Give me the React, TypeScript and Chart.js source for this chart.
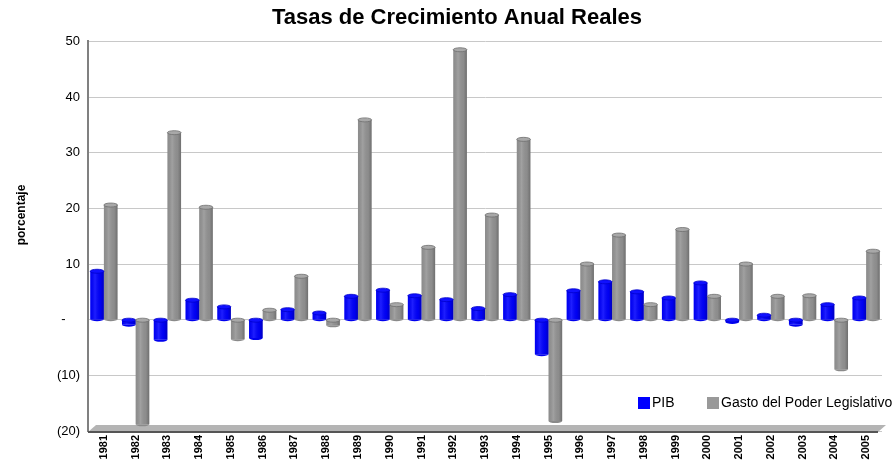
import React, { useEffect, useRef } from "react";
import { Chart, registerables } from "chart.js";

Chart.register(...registerables);

const years = ["1981","1982","1983","1984","1985","1986","1987","1988","1989","1990","1991","1992","1993","1994","1995","1996","1997","1998","1999","2000","2001","2002","2003","2004","2005"];
const pib = [8.7, -0.9, -3.6, 3.5, 2.3, -3.3, 1.8, 1.2, 4.2, 5.3, 4.3, 3.6, 2.0, 4.5, -6.2, 5.2, 6.8, 5.0, 3.9, 6.6, -0.4, 0.8, -0.9, 2.7, 3.9];
const gasto = [20.6, -18.8, 33.6, 20.2, -3.5, 1.7, 7.8, -1.0, 35.9, 2.7, 13.0, 48.5, 18.8, 32.4, -18.2, 10.0, 15.2, 2.7, 16.2, 4.2, 10.0, 4.2, 4.3, -8.9, 12.3];
const yTickLabels: Record<number, string> = { 50: "50", 40: "40", 30: "30", 20: "20", 10: "10", 0: "-    ", [-10]: "(10)", [-20]: "(20)" };
const TITLE = "Tasas de Crecimiento Anual Reales";

const FONT = "Arial, 'Liberation Sans', sans-serif";

const decoPlugin = {
  id: "deco",
  beforeDatasetsDraw(chart: any) {
    const { ctx, chartArea } = chart;
    const { left, right, bottom } = chartArea;
    ctx.save();
    ctx.beginPath();
    ctx.moveTo(left + 8, bottom - 6);
    ctx.lineTo(right + 4, bottom - 6);
    ctx.lineTo(right - 4, bottom + 1);
    ctx.lineTo(left, bottom + 1);
    ctx.closePath();
    ctx.fillStyle = "#b4b4b4";
    ctx.fill();
    ctx.fillStyle = "#555";
    ctx.fillRect(left, bottom, right - left - 4, 2);
    ctx.restore();
  },
  afterDatasetsDraw(chart: any) {
    const { ctx } = chart;
    ctx.save();
    chart.data.datasets.forEach((ds: any, di: number) => {
      const meta = chart.getDatasetMeta(di);
      meta.data.forEach((el: any) => {
        const w = el.width;
        const l = el.x - w / 2;
        const top = Math.min(el.y, el.base);
        const h = Math.abs(el.base - el.y);
        const g = ctx.createLinearGradient(l, 0, l + w, 0);
        g.addColorStop(0, "rgba(0,0,0,0.05)");
        g.addColorStop(0.35, "rgba(255,255,255,0.12)");
        g.addColorStop(0.75, "rgba(0,0,0,0.05)");
        g.addColorStop(1, "rgba(0,0,0,0.25)");
        ctx.fillStyle = g;
        ctx.fillRect(l, top, w, h);
        ctx.beginPath();
        ctx.ellipse(el.x, top, w / 2, 2, 0, 0, Math.PI * 2);
        ctx.fillStyle = di === 0 ? "#1010ff" : "#a8a8a8";
        ctx.fill();
        ctx.strokeStyle = di === 0 ? "#0000cc" : "#6e6e6e";
        ctx.lineWidth = 0.8;
        ctx.stroke();
        ctx.beginPath();
        ctx.ellipse(el.x, top + h, w / 2, 2, 0, 0, Math.PI);
        ctx.fillStyle = di === 0 ? "#0000ee" : "#8a8a8a";
        ctx.fill();
      });
    });
    ctx.restore();
  },
  afterDraw(chart: any) {
    const { ctx } = chart;
    ctx.save();
    // title
    ctx.font = `bold 22px ${FONT}`;
    ctx.textAlign = "center";
    ctx.textBaseline = "middle";
    ctx.fillStyle = "#000";
    ctx.fillText(TITLE, 457, 18);
    // y axis title
    ctx.save();
    ctx.translate(22, 215);
    ctx.rotate(-Math.PI / 2);
    ctx.font = `bold 12px ${FONT}`;
    ctx.textAlign = "center";
    ctx.textBaseline = "middle";
    ctx.fillStyle = "#000";
    ctx.fillText("porcentaje", 0, 0);
    ctx.restore();
    // legend
    ctx.font = `14px ${FONT}`;
    ctx.textAlign = "left";
    ctx.textBaseline = "middle";
    const y = 403;
    ctx.fillStyle = "#0000ff";
    ctx.fillRect(638, y - 6, 12, 12);
    ctx.fillStyle = "#000";
    ctx.fillText(chart.data.datasets[0].label, 652, y);
    ctx.fillStyle = "#999999";
    ctx.fillRect(707, y - 6, 12, 12);
    ctx.fillStyle = "#000";
    ctx.fillText(chart.data.datasets[1].label, 721, y);
    ctx.restore();
  },
};

export default function App() {
  const ref = useRef<HTMLCanvasElement>(null);
  useEffect(() => {
    document.body.style.margin = "0";
    const chart = new Chart(ref.current!, {
      type: "bar",
      data: {
        labels: years,
        datasets: [
          { label: "PIB", data: pib, backgroundColor: "#0000ff", borderWidth: 0, categoryPercentage: 0.86, barPercentage: 1 },
          { label: "Gasto del Poder Legislativo", data: gasto, backgroundColor: "#949494", borderWidth: 0, categoryPercentage: 0.86, barPercentage: 1 },
        ],
      },
      options: {
        animation: false,
        responsive: false,
        layout: { padding: { left: 8, right: 11, top: 0, bottom: 0 } },
        plugins: {
          legend: { display: false },
          tooltip: { enabled: false },
          title: {
            display: true,
            text: TITLE,
            font: { family: FONT, size: 22, weight: "bold" },
            color: "rgba(0,0,0,0)",
            padding: { top: 5, bottom: 10 },
          },
        },
        scales: {
          x: {
            grid: { display: false, drawTicks: false },
            border: { display: false },
            ticks: {
              color: "#000",
              font: { family: FONT, size: 11, weight: "bold" },
              maxRotation: 90,
              minRotation: 90,
              padding: 4,
            },
            afterFit: (s: any) => { s.height = 29; },
          },
          y: {
            min: -20,
            max: 50,
            ticks: {
              stepSize: 10,
              color: "#000",
              font: { family: FONT, size: 13 },
              padding: 8,
              callback: (v: any) => yTickLabels[v as number] ?? "",
            },
            grid: { color: "#c8c8c8", lineWidth: 1, drawTicks: false },
            border: { display: true, color: "#808080", width: 2 },
            afterFit: (s: any) => { s.width = 80; },
          },
        },
      },
      plugins: [decoPlugin],
    });
    return () => chart.destroy();
  }, []);
  return (
    <div style={{ width: 893, height: 460 }}>
      <canvas ref={ref} width={893} height={460} style={{ display: "block" }} />
    </div>
  );
}
